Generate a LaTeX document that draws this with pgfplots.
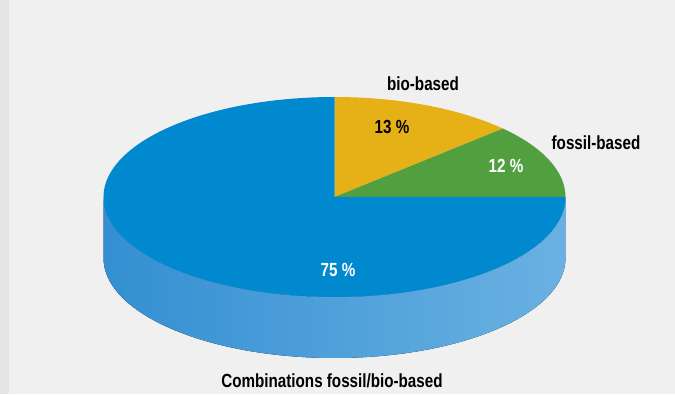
\documentclass[border=0pt]{standalone}
\usepackage{fontspec}
\setmainfont{Liberation Sans}[FakeStretch=0.8]
\usepackage{pgfplots}
\pgfplotsset{compat=1.18}
\usepackage{pgfplotstable}
\definecolor{bg}{HTML}{F0F0F0}
\definecolor{strip}{HTML}{E5E5E5}
\definecolor{cblue}{HTML}{0089CF}
\definecolor{cyellow}{HTML}{E6B116}
\definecolor{cgreen}{HTML}{519F3F}
\definecolor{sideL}{HTML}{348FD2}
\definecolor{sideR}{HTML}{6AB1E2}
\pgfplotstableread{
label value
bio 13
fossil 12
comb 75
}\piedata
\begin{document}
\begin{tikzpicture}
\pgfplotstablegetelem{0}{value}\of\piedata \let\vbio\pgfplotsretval
\pgfplotstablegetelem{1}{value}\of\piedata \let\vfos\pgfplotsretval
\pgfplotstablegetelem{2}{value}\of\piedata \let\vcomb\pgfplotsretval
\pgfmathsetmacro\aA{90}
\pgfmathsetmacro\aB{90-3.6*\vbio}
\pgfmathsetmacro\aC{\aB-3.6*\vfos}
\pgfmathsetmacro\aD{\aC-3.6*\vcomb}
\begin{axis}[scale only axis, width=675pt, height=394pt,
  xmin=0, xmax=675, ymin=0, ymax=394, hide axis, clip=false]
\addplot[draw=none] coordinates {(0,0) (675,394)};
\fill[bg] (axis cs:0,0) rectangle (axis cs:675,394);
\fill[strip] (axis cs:0,0) rectangle (axis cs:9,394);
% side
\fill[left color=sideL, right color=sideR]
  (axis cs:103.5,197) arc[start angle=180, end angle=360, x radius=231pt, y radius=100pt]
  -- ++(0,-61pt) arc[start angle=360, end angle=180, x radius=231pt, y radius=100pt] -- cycle;
% top sectors
\fill[cyellow] (axis cs:334.5,197) -- ++(\aA:231pt and 100pt)
  arc[start angle=\aA, end angle=\aB, x radius=231pt, y radius=100pt] -- cycle;
\fill[cgreen] (axis cs:334.5,197) -- ++(\aB:231pt and 100pt)
  arc[start angle=\aB, end angle=\aC, x radius=231pt, y radius=100pt] -- cycle;
\fill[cblue] (axis cs:334.5,197) -- ++(\aC:231pt and 100pt)
  arc[start angle=\aC, end angle=\aD, x radius=231pt, y radius=100pt] -- cycle;
% labels
\node[font=\fontsize{19}{22}\selectfont\bfseries] at (axis cs:423,310) {bio-based};
\node[font=\fontsize{19}{22}\selectfont\bfseries] at (axis cs:392,267) {13 \%};
\node[font=\fontsize{19}{22}\selectfont\bfseries] at (axis cs:596,251) {fossil-based};
\node[font=\fontsize{19}{22}\selectfont\bfseries, white] at (axis cs:506,228) {12 \%};
\node[font=\fontsize{19}{22}\selectfont\bfseries, white] at (axis cs:338,124) {75 \%};
\node[font=\fontsize{19}{22}\selectfont\bfseries] at (axis cs:332,13) {Combinations fossil/bio-based};
\end{axis}
\end{tikzpicture}
\end{document}
